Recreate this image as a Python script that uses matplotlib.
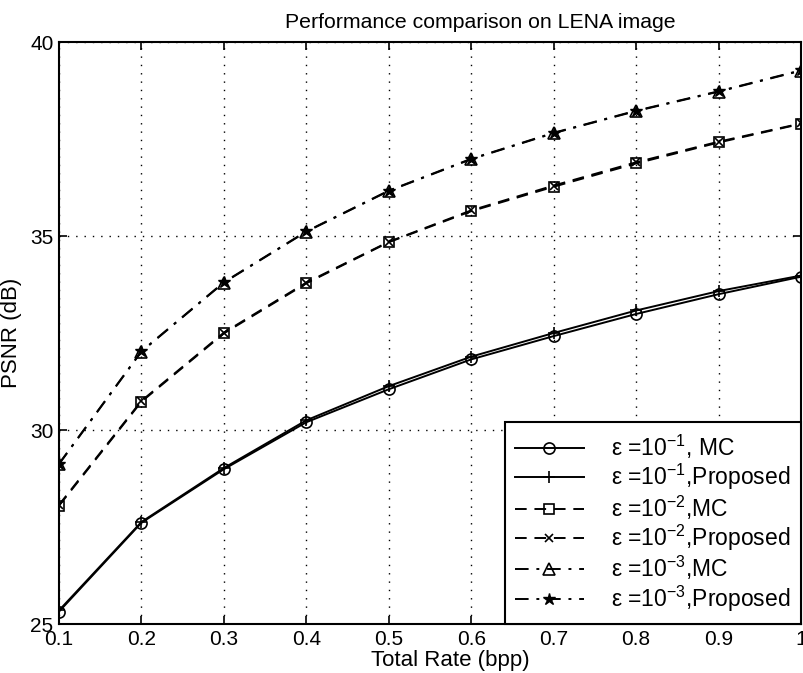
import matplotlib as mpl
mpl.use("Agg")
import matplotlib.pyplot as plt

# PSNR vs total rate for LENA, three channel error rates
rate = [0.1, 0.2, 0.3, 0.4, 0.5, 0.6, 0.7, 0.8, 0.9, 1.0]
mc_e1 = [25.32, 27.61, 28.99, 30.20, 31.05, 31.82, 32.42, 32.99, 33.50, 33.95]
prop_e1 = [25.35, 27.63, 29.02, 30.25, 31.13, 31.89, 32.50, 33.08, 33.58, 33.98]
mc_e2 = [28.05, 30.73, 32.49, 33.78, 34.84, 35.64, 36.27, 36.87, 37.41, 37.89]
prop_e2 = [28.07, 30.75, 32.51, 33.80, 34.85, 35.66, 36.30, 36.90, 37.43, 37.90]
mc_e3 = [29.12, 32.02, 33.80, 35.11, 36.16, 36.98, 37.65, 38.22, 38.72, 39.26]
prop_e3 = [29.13, 32.03, 33.81, 35.12, 36.17, 36.99, 37.66, 38.23, 38.73, 39.27]

labels = [u"\u03b5 =10$^{-1}$, MC", u"\u03b5 =10$^{-1}$,Proposed",
          u"\u03b5 =10$^{-2}$,MC", u"\u03b5 =10$^{-2}$,Proposed",
          u"\u03b5 =10$^{-3}$,MC", u"\u03b5 =10$^{-3}$,Proposed"]
xticks = [0.1, 0.2, 0.3, 0.4, 0.5, 0.6, 0.7, 0.8, 0.9, 1]
xticklabels = ["0.1", "0.2", "0.3", "0.4", "0.5", "0.6", "0.7", "0.8", "0.9", "1"]
yticks = [25, 30, 35, 40]

plt.rcParams['font.family'] = ['Liberation Sans', 'DejaVu Sans']
plt.rcParams['mathtext.fontset'] = 'custom'
plt.rcParams['mathtext.rm'] = 'Liberation Sans'
plt.rcParams['mathtext.it'] = 'Liberation Sans:italic'

fig = plt.figure(figsize=(8.04, 6.73), dpi=100)
ax = fig.add_axes([59/804, 1-624/673, 742/804, 582/673])

lw = 1.4
ax.plot(rate, mc_e1, '-', color='k', lw=lw, marker='o', ms=8, mfc='none', mew=1.2, label=labels[0])
ax.plot(rate, prop_e1, '-', color='k', lw=lw, marker='+', ms=9, mew=1.2, label=labels[1])
ax.plot(rate, mc_e2, '--', color='k', lw=lw, marker='s', ms=7, mfc='none', mew=1.2, dashes=(6, 4), label=labels[2])
ax.plot(rate, prop_e2, '--', color='k', lw=lw, marker='x', ms=6, mew=1.2, dashes=(6, 4), label=labels[3])
ax.plot(rate, mc_e3, '-.', color='k', lw=lw, marker='^', ms=9, mfc='none', mew=1.2, dashes=(7, 4, 1.5, 4), label=labels[4])
ax.plot(rate, prop_e3, '-.', color='k', lw=lw, marker='*', ms=9, mew=1.0, dashes=(7, 4, 1.5, 4), label=labels[5])

ax.set_xlim(0.1, 1.0)
ax.set_ylim(25, 40)
ax.set_xticks(xticks)
ax.set_xticklabels(xticklabels)
ax.set_yticks(yticks)
ax.tick_params(direction='in', top=True, right=True, labelsize=15, length=6, width=1.2, pad=4)
ax.grid(True, color='k', linestyle=(0, (1, 5)), linewidth=1.0)
for s in ax.spines.values():
    s.set_linewidth(1.5)

ax.set_xlabel("Total Rate (bpp)", fontsize=16, labelpad=0)
ax.xaxis.set_label_coords(0.528, -0.045, transform=ax.transAxes)
ax.set_ylabel("PSNR (dB)", fontsize=16, labelpad=6)
fig.text(480/804, 1-22/673, "Performance comparison on LENA image", fontsize=15.3, ha='center', va='center')

leg = ax.legend(loc='lower right', fontsize=16.5, frameon=True, fancybox=False, borderaxespad=0,
                handlelength=3.0, labelspacing=0.05, borderpad=0.45, handletextpad=1.2, framealpha=1)
leg.get_frame().set_edgecolor('k')
leg.get_frame().set_linewidth(1.5)

plt.savefig("out.png", dpi=100)
